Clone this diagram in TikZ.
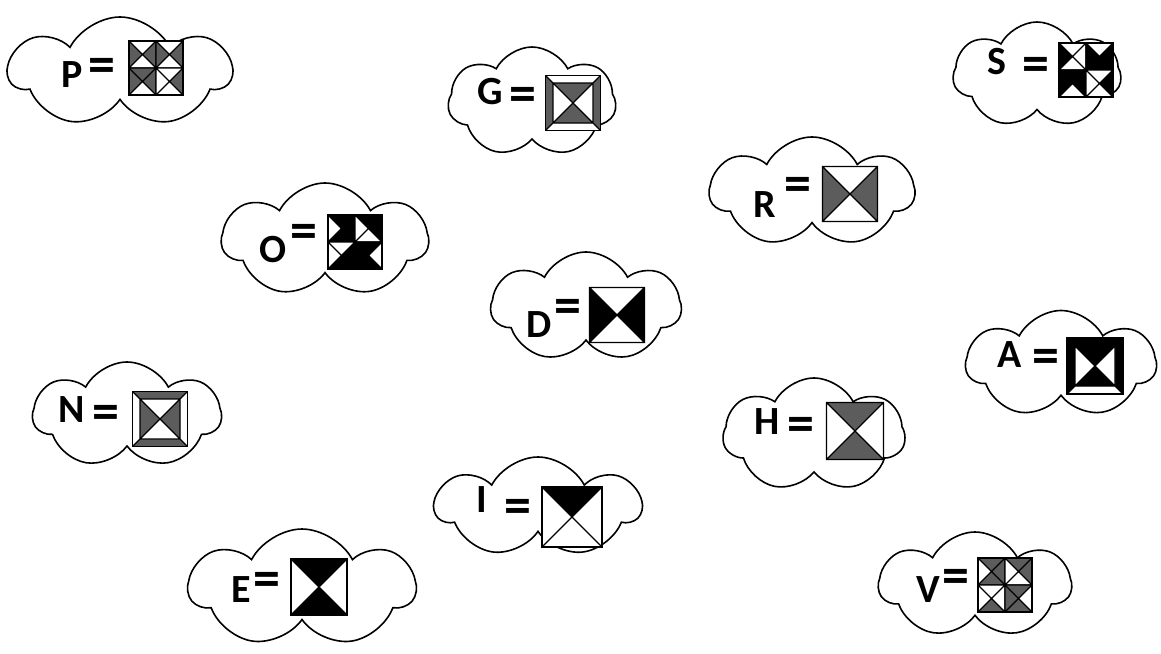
\documentclass[tikz,border=0pt]{standalone}
\usepackage{fontspec}
\setmainfont{Carlito}
\usetikzlibrary{shapes.symbols}
\definecolor{qg}{RGB}{92,92,92}
\definecolor{qw}{RGB}{255,255,255}
\definecolor{qb}{RGB}{0,0,0}
\tikzset{
  cloudbox/.style={cloud, cloud puffs=7, cloud puff arc=125, draw=black, line width=1.6pt, inner sep=0pt},
  letter/.style={font=\fontsize{40}{40}\selectfont\bfseries, inner sep=0pt},
  eqsign/.style={font=\fontsize{54}{54}\selectfont\bfseries, inner sep=0pt},
  qline/.style={line width=1.1pt, line join=miter},
  qborder/.style={line width=1.8pt}
}
% #1 cx  #2 cy  #3 half  #4 top  #5 right  #6 bottom  #7 left
\newcommand\xsq[7]{%
  \fill[#4] (#1-#3,#2-#3) -- (#1+#3,#2-#3) -- (#1,#2) -- cycle;
  \fill[#5] (#1+#3,#2-#3) -- (#1+#3,#2+#3) -- (#1,#2) -- cycle;
  \fill[#6] (#1+#3,#2+#3) -- (#1-#3,#2+#3) -- (#1,#2) -- cycle;
  \fill[#7] (#1-#3,#2+#3) -- (#1-#3,#2-#3) -- (#1,#2) -- cycle;
  \draw[qline] (#1-#3,#2-#3) rectangle (#1+#3,#2+#3)
    (#1-#3,#2-#3) -- (#1+#3,#2+#3) (#1+#3,#2-#3) -- (#1-#3,#2+#3);
}
% frame: #1 cx #2 cy #3 outer half #4 inner half #5 T #6 R #7 B #8 L
\newcommand\frsq[8]{%
  \fill[#5] (#1-#3,#2-#3) -- (#1+#3,#2-#3) -- (#1+#4,#2-#4) -- (#1-#4,#2-#4) -- cycle;
  \fill[#6] (#1+#3,#2-#3) -- (#1+#3,#2+#3) -- (#1+#4,#2+#4) -- (#1+#4,#2-#4) -- cycle;
  \fill[#7] (#1+#3,#2+#3) -- (#1-#3,#2+#3) -- (#1-#4,#2+#4) -- (#1+#4,#2+#4) -- cycle;
  \fill[#8] (#1-#3,#2+#3) -- (#1-#3,#2-#3) -- (#1-#4,#2-#4) -- (#1-#4,#2+#4) -- cycle;
  \draw[qline] (#1-#3,#2-#3) -- (#1-#4,#2-#4) (#1+#3,#2-#3) -- (#1+#4,#2-#4)
    (#1+#3,#2+#3) -- (#1+#4,#2+#4) (#1-#3,#2+#3) -- (#1-#4,#2+#4);
  \draw[qborder] (#1-#3,#2-#3) rectangle (#1+#3,#2+#3);
}
\newcommand\bord[3]{\draw[qborder] (#1-#3,#2-#3) rectangle (#1+#3,#2+#3);}
\begin{document}
\begin{tikzpicture}[x=1pt,y=-1pt]
\useasboundingbox (0,0) rectangle (1161,653);
\fill[white] (0,0) rectangle (1161,653);

% clouds
\node[cloudbox, minimum width=222pt, minimum height=110pt, shape border rotate=10] (cP) at (120,72) {};
\node[cloudbox, minimum width=168pt, minimum height=110pt, shape border rotate=-15] (cG) at (532,102) {};
\node[cloudbox, minimum width=168pt, minimum height=106pt, shape border rotate=20] (cS) at (1037,75) {};
\node[cloudbox, minimum width=204pt, minimum height=110pt, shape border rotate=5] (cR) at (812,192) {};
\node[cloudbox, minimum width=206pt, minimum height=114pt, shape border rotate=-10] (cO) at (325,240) {};
\node[cloudbox, minimum width=190pt, minimum height=110pt, shape border rotate=15] (cD) at (586,307) {};
\node[cloudbox, minimum width=190pt, minimum height=107pt, shape border rotate=-5] (cA) at (1061,364) {};
\node[cloudbox, minimum width=188pt, minimum height=106pt, shape border rotate=10] (cN) at (127,415) {};
\node[cloudbox, minimum width=182pt, minimum height=114pt, shape border rotate=5] (cH) at (814,435) {};
\node[cloudbox, minimum width=205pt, minimum height=100pt, shape border rotate=12] (cI) at (538,507) {};
\node[cloudbox, minimum width=226pt, minimum height=118pt, shape border rotate=12] (cE) at (302,588) {};
\node[cloudbox, minimum width=192pt, minimum height=106pt, shape border rotate=-8] (cV) at (975,585) {};

% letters
\node[letter] (lP) at (72,75) {P};   \node[eqsign] (eP) at (102,70) {=};
\node[letter] (lG) at (490,92) {G};  \node[eqsign] (eG) at (523,99) {=};
\node[letter] (lS) at (997,62) {S};  \node[eqsign] (eS) at (1036,69) {=};
\node[letter] (lR) at (765,205) {R}; \node[eqsign] (eR) at (798,189) {=};
\node[letter] (lO) at (273,250) {O}; \node[eqsign] (eO) at (304,236) {=};
\node[letter] (lD) at (539,325) {D}; \node[eqsign] (eD) at (568,311) {=};
\node[letter] (lA) at (1010,355) {A};\node[eqsign] (eA) at (1046,361) {=};
\node[letter] (lN) at (72,410) {N};  \node[eqsign] (eN) at (106,417) {=};
\node[letter] (lH) at (767,422) {H}; \node[eqsign] (eH) at (801,429) {=};
\node[letter] (lI) at (482,500) {I}; \node[eqsign] (eI) at (518,511) {=};
\node[letter] (lE) at (241,590) {E}; \node[eqsign] (eE) at (267,584) {=};
\node[letter] (lV) at (928,590) {V}; \node[eqsign] (eV) at (956,581) {=};

% P  (center 156,68 half 27)
\xsq{142.5}{54.5}{13.5}{qw}{qg}{qw}{qg}
\xsq{169.5}{54.5}{13.5}{qw}{qg}{qw}{qg}
\xsq{142.5}{81.5}{13.5}{qg}{qg}{qw}{qg}
\xsq{169.5}{81.5}{13.5}{qw}{qg}{qw}{qw}
\bord{156}{68}{27}

% G
\frsq{573}{103}{27.5}{20}{qw}{qg}{qw}{qg}
\xsq{573}{103}{20}{qg}{qw}{qg}{qw}
\bord{573}{103}{27.5}

% S (center 1086,70)
\xsq{1072.5}{56.5}{13.5}{qw}{qw}{qw}{qb}
\xsq{1099.5}{56.5}{13.5}{qw}{qb}{qb}{qb}
\xsq{1072.5}{83.5}{13.5}{qb}{qb}{qw}{qb}
\xsq{1099.5}{83.5}{13.5}{qw}{qb}{qw}{qw}
\bord{1086}{70}{27}

% R
\xsq{850}{194}{27.5}{qw}{qg}{qw}{qg}
\bord{850}{194}{27.5}

% O (center 355,242)
\xsq{341.5}{228.5}{13.5}{qb}{qb}{qb}{qw}
\xsq{368.5}{228.5}{13.5}{qb}{qb}{qw}{qw}
\xsq{341.5}{255.5}{13.5}{qw}{qb}{qb}{qw}
\xsq{368.5}{255.5}{13.5}{qb}{qw}{qb}{qb}
\bord{355}{242}{27}

% D
\xsq{617}{315}{27.5}{qw}{qb}{qw}{qb}
\bord{617}{315}{27.5}

% A
\frsq{1095}{366}{28}{20}{qb}{qb}{qw}{qb}
\xsq{1095}{366}{20}{qb}{qw}{qb}{qw}
\bord{1095}{366}{28}

% N
\frsq{160}{419}{27.5}{20}{qg}{qw}{qg}{qw}
\xsq{160}{419}{20}{qw}{qg}{qw}{qg}
\bord{160}{419}{27.5}

% H
\xsq{855}{431}{28.5}{qg}{qw}{qg}{qw}
\bord{855}{431}{28.5}

% I
\xsq{572}{517}{30}{qb}{qw}{qw}{qw}
\bord{572}{517}{30}

% E
\xsq{319}{587}{28}{qb}{qw}{qb}{qw}
\bord{319}{587}{28}

% V (center 1005,585)
\xsq{991.5}{571.5}{13.5}{qg}{qg}{qg}{qw}
\xsq{1018.5}{571.5}{13.5}{qg}{qg}{qw}{qw}
\xsq{991.5}{598.5}{13.5}{qw}{qw}{qg}{qw}
\xsq{1018.5}{598.5}{13.5}{qg}{qw}{qg}{qg}
\bord{1005}{585}{27}
\end{tikzpicture}
\end{document}
